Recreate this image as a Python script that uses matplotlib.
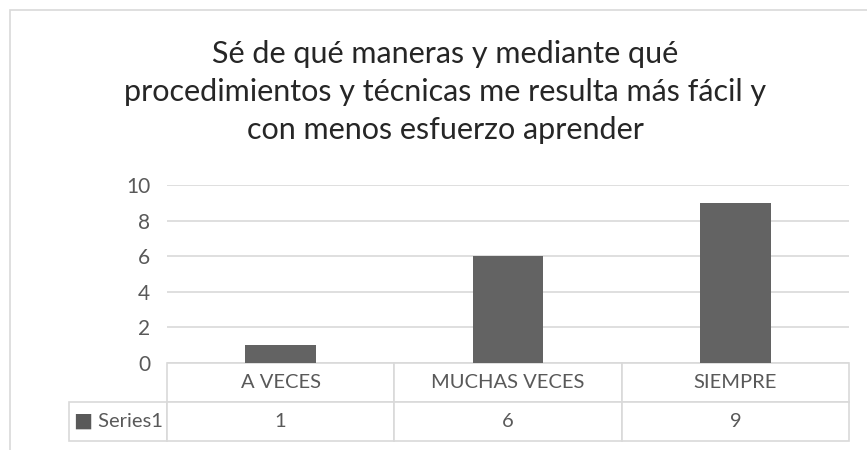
import matplotlib.pyplot as plt
from matplotlib.patches import Rectangle

categories = ["A VECES", "MUCHAS VECES", "SIEMPRE"]
values = [1, 6, 9]
series_name = "Series1"
yticks = [0, 2, 4, 6, 8, 10]
title = ("Sé de qué maneras y mediante qué\n"
         "procedimientos y técnicas me resulta más fácil y\n"
         "con menos esfuerzo aprender")

plt.rcParams['font.family'] = ['Lato', 'DejaVu Sans']

fig = plt.figure(figsize=(8.67, 4.5), dpi=100)
W, H = 867, 450

# outer chart border
fig.patches.append(Rectangle((10 / W, -0.1), 1.2, (440 / H) + 0.1,
                             transform=fig.transFigure, fill=False,
                             edgecolor='#d9d9d9', linewidth=1.2))

ax = fig.add_axes([167 / W, 1 - 363 / H, 682 / W, 178 / H])
x = range(len(categories))
ax.bar(x, values, width=0.31, color='#636363', zorder=3)
ax.set_xlim(-0.5, len(categories) - 0.5)
ax.set_ylim(0, 10)
ax.set_yticks(yticks)
ax.set_xticks([])
ax.tick_params(axis='y', length=0, pad=12, labelsize=15, labelcolor='#595959')
ax.grid(axis='y', color='#d9d9d9', linewidth=1.2, zorder=0)
for s in ax.spines.values():
    s.set_visible(False)

tbl = ax.table(cellText=[[str(v) for v in values]],
               rowLabels=["■ " + series_name],
               colLabels=categories,
               colWidths=[1 / 3] * 3,
               loc='bottom', cellLoc='center', rowLoc='left')
tbl.auto_set_font_size(False)
row_h = 39 / 178
for (r, c), cell in tbl.get_celld().items():
    cell.set_edgecolor('#d9d9d9')
    cell.set_linewidth(1.2)
    cell.set_height(row_h)
    cell.get_text().set_fontsize(14.5)
    cell.get_text().set_color('#595959')
    if c == -1:
        cell.set_width(110 / 682)
        cell.PAD = 0.05

fig.text(445 / W, 1 - 92 / H, title, ha='center', va='center',
         fontsize=22, color='#262626', linespacing=1.42)

fig.savefig('out.png', dpi=100)
